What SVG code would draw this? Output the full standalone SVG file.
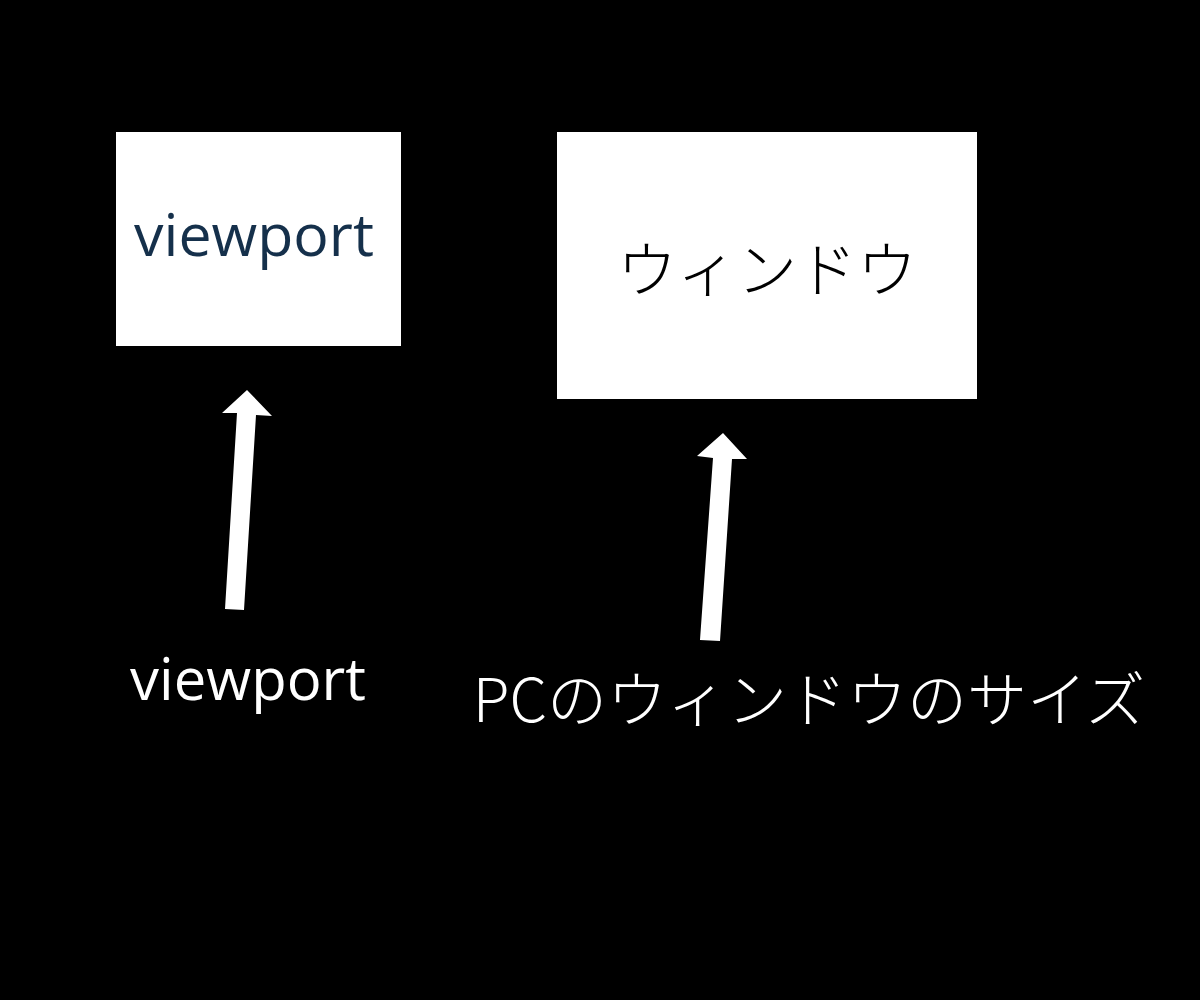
<svg xmlns="http://www.w3.org/2000/svg" width="1200" height="1000" viewBox="0 0 1200 1000">
<style>
.box{fill:#ffffff}
.lat{font-family:"Open Sans","Noto Sans","Noto Sans CJK JP",sans-serif}
.jp{font-family:"Noto Sans CJK JP",sans-serif;font-weight:300}
.arrow{fill:#ffffff}
</style>
<rect x="0" y="0" width="1200" height="1000" fill="#000000"/>
<g id="node-viewport-box">
<rect class="box" x="116" y="132" width="285" height="214"/>
<text class="lat" x="254" y="256" font-size="59" fill="#15304b" text-anchor="middle">viewport</text>
</g>
<g id="node-window-box">
<rect class="box" x="557" y="132" width="420" height="267"/>
<text class="jp" x="767" y="292" font-size="60" fill="#000000" text-anchor="middle">ウィンドウ</text>
</g>
<g id="connectors">
<polygon class="arrow" points="225,609 244,610 256,415 272,416 247,390 222,413 237,413"/>
<polygon class="arrow" points="700,640 720,641 732,459 747,459 723,433 697,456 713,458"/>
</g>
<g id="label-viewport">
<text class="lat" x="248" y="700" font-size="58" fill="#ffffff" text-anchor="middle">viewport</text>
</g>
<g id="label-pc-window">
<text class="jp" x="809" y="722" font-size="60" fill="#ffffff" text-anchor="middle">PCのウィンドウのサイズ</text>
</g>
</svg>
